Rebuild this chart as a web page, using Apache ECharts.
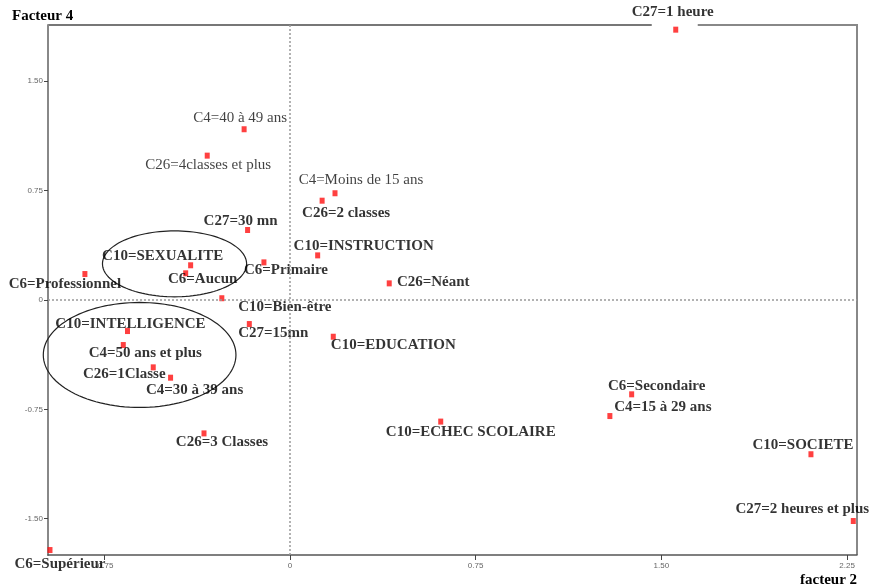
<!DOCTYPE html>
<html><head><meta charset="utf-8">
<script src="https://cdn.jsdelivr.net/npm/echarts@6/dist/echarts.min.js"></script>
<style>html,body{margin:0;padding:0;background:#fff}#c{width:873px;height:588px}</style>
</head><body><div id="c"></div>
<script>
// ---- data ----
const names = [
  'C27=1 heure','C4=40 à 49 ans','C26=4classes et plus','C27=30 mn','C10=SEXUALITE',
  'C6=Aucun','C6=Professionnel','C6=Primaire','C4=Moins de 15 ans','C26=2 classes',
  'C10=INSTRUCTION','C26=Néant','C10=Bien-être','C27=15mn','C10=INTELLIGENCE',
  'C4=50 ans et plus','C26=1Classe','C4=30 à 39 ans','C26=3 Classes','C6=Supérieur',
  'C10=EDUCATION','C10=ECHEC SCOLAIRE','C6=Secondaire','C4=15 à 29 ans','C10=SOCIETE',
  'C27=2 heures et plus'
];
const factor2 = [
  1.558,-0.185,-0.334,-0.171,-0.401,
  -0.421,-0.828,-0.105,0.182,0.130,
  0.112,0.401,-0.275,-0.164,-0.656,
  -0.673,-0.552,-0.482,-0.347,-0.969,
  0.175,0.609,1.380,1.292,2.104,
  2.275
];
const factor4 = [
  1.854,1.171,0.990,0.480,0.238,
  0.183,0.178,0.258,0.732,0.681,
  0.306,0.114,0.012,-0.165,-0.213,
  -0.309,-0.462,-0.533,-0.915,-1.715,
  -0.252,-0.834,-0.647,-0.796,-1.058,
  -1.516
];
const xTicks = [-0.75, 0, 0.75, 1.5, 2.25];
const yTicks = [-1.5, -0.75, 0, 0.75, 1.5];
// ellipses (annotation groups), in data units
const ellipseCx = [-0.466, -0.607];
const ellipseCy = [0.248, -0.377];
const ellipseRx = [0.291, 0.389];
const ellipseRy = [0.226, 0.360];

// ---- label layout (pixel offsets, weight) ----
const labelLayout = {
  'C27=1 heure':[-3,-18,'bold'],
  'C4=40 à 49 ans':[-4,-11,'normal'],
  'C26=4classes et plus':[1,9,'normal'],
  'C27=30 mn':[-7,-9,'bold'],
  'C10=SEXUALITE':[-28,-9,'bold'],
  'C6=Aucun':[17,6,'bold'],
  'C6=Professionnel':[-20,10,'bold'],
  'C6=Primaire':[22,8,'bold'],
  'C4=Moins de 15 ans':[26,-13,'normal'],
  'C26=2 classes':[24,12,'bold'],
  'C10=INSTRUCTION':[46,-9,'bold'],
  'C26=Néant':[44,-1,'bold'],
  'C10=Bien-être':[63,9,'bold'],
  'C27=15mn':[24,9,'bold'],
  'C10=INTELLIGENCE':[3,-7,'bold'],
  'C4=50 ans et plus':[22,8,'bold'],
  'C26=1Classe':[-29,7,'bold'],
  'C4=30 à 39 ans':[24,12,'bold'],
  'C26=3 Classes':[18,9,'bold'],
  'C6=Supérieur':[10,14,'bold'],
  'C10=EDUCATION':[60,8,'bold'],
  'C10=ECHEC SCOLAIRE':[30,11,'bold'],
  'C6=Secondaire':[25,-8,'bold'],
  'C4=15 à 29 ans':[53,-9,'bold'],
  'C10=SOCIETE':[-8,-9,'bold'],
  'C27=2 heures et plus':[-51,-12,'bold']
};

const X_MIN = -0.977, X_MAX = 2.29, Y_MIN = -1.749, Y_MAX = 1.886;
const serif = '"Liberation Serif","Times New Roman",serif';
const narrow = '"Liberation Sans Narrow","Arial Narrow","Liberation Sans",sans-serif';

const pts = names.map((n, i) => {
  const l = labelLayout[n] || [0, -10, 'bold'];
  return {
    name: n,
    value: [factor2[i], factor4[i]],
    label: {
      show: true, position: 'inside', offset: [l[0], l[1]],
      formatter: n, fontWeight: l[2],
      fontFamily: serif, fontSize: 15, color: l[2] === 'bold' ? '#000' : '#111'
    }
  };
});

const fmt = v => (Math.abs(v) < 1e-9 ? '0' : v.toFixed(2));

const chart = echarts.init(document.getElementById('c'), null, {renderer: 'canvas'});
chart.setOption({
  animation: false,
  backgroundColor: '#fff',
  title: [
    {text: 'Facteur 4', left: 7, top: 4,
     textStyle: {fontFamily: serif, fontSize: 15, fontWeight: 'bold', color: '#000'}},
    {text: 'facteur 2', left: 795, top: 568,
     textStyle: {fontFamily: serif, fontSize: 15, fontWeight: 'bold', color: '#000'}}
  ],
  grid: {left: 48, right: 16, top: 25, bottom: 33},
  xAxis: {
    type: 'value', min: X_MIN, max: X_MAX,
    axisLine: {show: true, onZero: false, lineStyle: {color: '#555', width: 1.5}},
    axisTick: {show: true, customValues: xTicks, length: 5, lineStyle: {color: '#444'}},
    axisLabel: {show: true, customValues: xTicks, formatter: fmt, margin: 7,
      fontFamily: narrow, fontSize: 8, color: '#666'},
    splitLine: {show: false}
  },
  yAxis: {
    type: 'value', min: Y_MIN, max: Y_MAX,
    axisLine: {show: true, onZero: false, lineStyle: {color: '#888', width: 2}},
    axisTick: {show: true, customValues: yTicks, length: 4, lineStyle: {color: '#444'}},
    axisLabel: {show: true, customValues: yTicks, formatter: fmt, margin: 5,
      fontFamily: narrow, fontSize: 8, color: '#666'},
    splitLine: {show: false}
  },
  series: [
    {
      type: 'scatter',
      symbol: 'rect', symbolSize: [5, 6],
      itemStyle: {color: '#ff1010'},
      data: pts,
      z: 3,
      markLine: {
        silent: true, symbol: 'none', label: {show: false},
        lineStyle: {color: '#999', type: [2, 2], width: 1.5},
        data: [{xAxis: 0}, {yAxis: 0}]
      }
    },
    {
      type: 'custom',
      coordinateSystem: 'cartesian2d',
      clip: false,
      silent: true,
      data: ellipseCx.map((c, i) => [c, ellipseCy[i], ellipseRx[i], ellipseRy[i]]),
      renderItem: function (params, api) {
        const cx = api.value(0), cy = api.value(1), rx = api.value(2), ry = api.value(3);
        const points = [];
        for (let k = 0; k <= 120; k++) {
          const t = k / 120 * Math.PI * 2;
          points.push(api.coord([cx + rx * Math.cos(t), cy + ry * Math.sin(t)]));
        }
        return {type: 'polyline', shape: {points: points},
          style: {stroke: '#222', lineWidth: 1.2, fill: null}};
      },
      z: 2
    }
  ]
});

// frame (top with gap around top point, right side)
const tl = chart.convertToPixel({gridIndex: 0}, [X_MIN, Y_MAX]);
const br = chart.convertToPixel({gridIndex: 0}, [X_MAX, Y_MIN]);
const pTop = chart.convertToPixel({gridIndex: 0}, [factor2[0], factor4[0]]);
chart.setOption({
  graphic: [
    {type: 'polyline', shape: {points: [[tl[0], tl[1]], [pTop[0] - 24, tl[1]]]},
     style: {stroke: '#777', lineWidth: 2}},
    {type: 'polyline', shape: {points: [[pTop[0] + 22, tl[1]], [br[0], tl[1]], [br[0], br[1]]]},
     style: {stroke: '#888', lineWidth: 2}}
  ]
});
</script>
</body></html>
